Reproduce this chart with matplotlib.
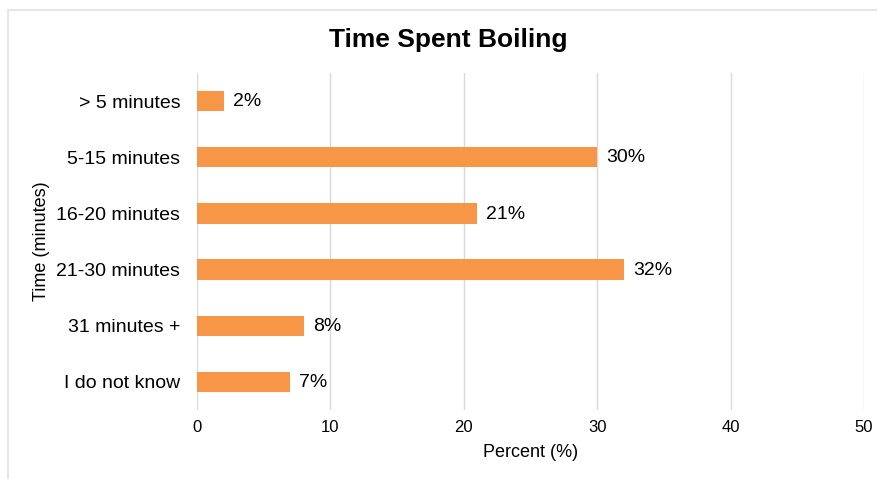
import matplotlib.pyplot as plt
from matplotlib.lines import Line2D

plt.rcParams['font.family'] = ['Liberation Sans', 'DejaVu Sans']

# Survey answers, top to bottom
categories = ['> 5 minutes', '5-15 minutes', '16-20 minutes',
              '21-30 minutes', '31 minutes +', 'I do not know']
percents = [2, 30, 21, 32, 8, 7]
x_ticks = [0, 10, 20, 30, 40, 50]

bar_color = '#F79646'
grid_color = '#d9d9d9'

fig = plt.figure(figsize=(8.78, 4.79), dpi=100)
ax = fig.add_axes([197 / 878, 1 - 410 / 479, (864 - 197) / 878, 337 / 479])

ypos = list(range(len(categories)))
ax.barh(ypos, percents, height=0.36, color=bar_color, zorder=3)
for y, v in zip(ypos, percents):
    ax.annotate(f'{v}%', (v, y), xytext=(6.5, -0.5), textcoords='offset points',
                va='center', ha='left', fontsize=14, color='black')

ax.set_xlim(0, 50)
ax.set_ylim(len(categories) - 0.5, -0.5)
ax.set_yticks(ypos)
ax.set_yticklabels(categories, fontsize=14)
ax.set_xticks(x_ticks)
ax.set_xticklabels([str(t) for t in x_ticks], fontsize=12)
ax.tick_params(axis='both', length=0)
ax.tick_params(axis='y', pad=12)
ax.tick_params(axis='x', pad=7)

ax.grid(axis='x', color=grid_color, linewidth=1, zorder=0)
for s in ax.spines.values():
    s.set_visible(False)

ax.set_xlabel('Percent (%)', fontsize=13, labelpad=7)
ax.set_ylabel('Time (minutes)', fontsize=13)
ax.yaxis.set_label_coords(-0.22, 0.5)

fig.text(448 / 878, 1 - 40 / 479, 'Time Spent Boiling', fontsize=19,
         fontweight='bold', ha='center', va='center')

# light frame around the chart
fig.add_artist(Line2D([8 / 878, 1], [1 - 10 / 479, 1 - 10 / 479],
                      color='#e6e6e6', linewidth=1.5, transform=fig.transFigure))
fig.add_artist(Line2D([8 / 878, 8 / 878], [0, 1 - 10 / 479],
                      color='#e6e6e6', linewidth=1.5, transform=fig.transFigure))

fig.savefig('out.png', dpi=100)
